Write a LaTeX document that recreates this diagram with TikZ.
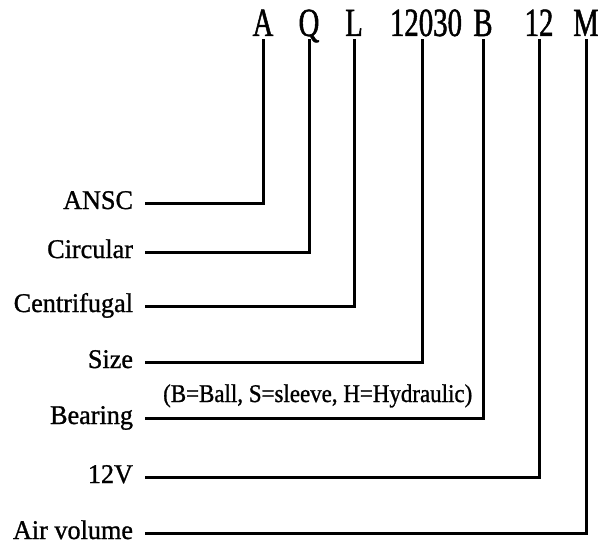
\documentclass[tikz,border=0pt]{standalone}
\usepackage{fontspec}
\setmainfont{Liberation Serif}
\newfontfamily\codefont[FakeStretch=0.72, FakeBold=1.2]{Liberation Serif}
\newfontfamily\labelfont[FakeStretch=0.97, FakeBold=1]{Liberation Serif}
\newfontfamily\notefont[FakeStretch=0.9, FakeBold=1]{Liberation Serif}
\usetikzlibrary{positioning}

\begin{document}
\begin{tikzpicture}[
  x=1pt, y=-1pt,
  lead/.style  = {line width=3pt, line join=miter},
  code/.style  = {anchor=base, inner xsep=0pt, inner ysep=3pt, text depth=0pt,
                  font=\codefont\fontsize{40}{40}\selectfont},
  label/.style = {anchor=east, inner sep=0pt, outer xsep=12pt, text height=13pt,
                  text depth=1pt, font=\labelfont\fontsize{27}{27}\selectfont},
  note/.style  = {anchor=base west, inner sep=0pt,
                  font=\notefont\fontsize{25.5}{26}\selectfont},
]
  \useasboundingbox (0,0) rectangle (598,551);

  % type code along the top
  \node[code] (codeA)    at (263,36) {A};
  \node[code] (codeQ)    at (309,36) {Q};
  \node[code] (codeL)    at (354,36) {L};
  \node[code] (codeSize) at (426,36) {12030};
  \node[code] (codeB)    at (483,36) {B};
  \node[code] (codeV)    at (539,36) {12};
  \node[code] (codeM)    at (586,36) {M};

  % meanings on the left
  \node[label] (lblA)    at (145,203) {ANSC};
  \node[label] (lblQ)    at (145,252) {Circular};
  \node[label] (lblL)    at (145,306) {Centrifugal};
  \node[label] (lblSize) at (145,362) {Size};
  \node[label] (lblB)    at (145,418) {Bearing};
  \node[label] (lblV)    at (145,477) {12V};
  \node[label] (lblM)    at (145,533) {Air volume};

  \node[note] (bnote) at (163,402) {(B=Ball, S=sleeve, H=Hydraulic)};

  \draw[lead] (codeA.south)                 |- (lblA.east);
  \draw[lead] (codeQ.south)                 |- (lblQ.east);
  \draw[lead] (codeL.south)                 |- (lblL.east);
  \draw[lead] ([xshift=-4pt]codeSize.south) |- (lblSize.east);
  \draw[lead] (codeB.south)                 |- (lblB.east);
  \draw[lead] (codeV.south)                 |- (lblV.east);
  \draw[lead] (codeM.south)                 |- (lblM.east);
\end{tikzpicture}
\end{document}
